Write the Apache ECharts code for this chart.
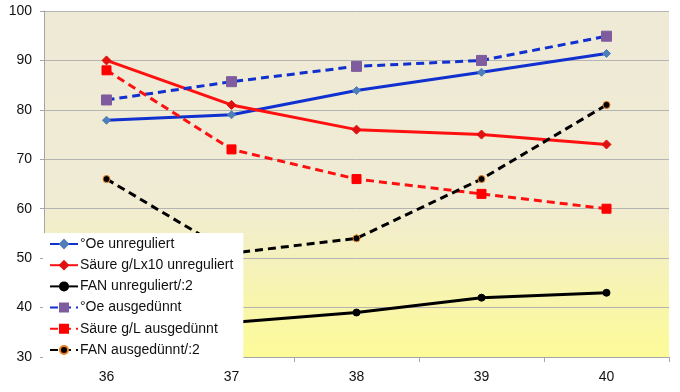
<!DOCTYPE html>
<html><head><meta charset="utf-8">
<script src="https://cdn.jsdelivr.net/npm/echarts@6/dist/echarts.min.js"></script>
<style>html,body{margin:0;padding:0;background:#fff}#c{width:680px;height:392px}</style>
</head><body><div id="c"></div>
<script>
const categories = ['36','37','38','39','40'];
const oeUnreg = [77.9, 79, 83.9, 87.6, 91.4];
const saeureUnreg = [90, 81, 76, 75, 73];
const fanUnreg = [36, 37, 39, 42, 43];
const oeAus = [82, 85.7, 88.8, 90, 94.9];
const saeureAus = [88, 72, 66, 63, 60];
const fanAus = [66, 51, 54, 66, 81];
const names = ['°Oe unreguliert','Säure g/Lx10 unreguliert','FAN unreguliert/:2','°Oe ausgedünnt','Säure g/L ausgedünnt','FAN ausgedünnt/:2'];

function s(name, data, color, dashed, symbol, size, mColor, mBorder){
  return {
    name, type:'line', data, symbol, symbolSize:size,
    lineStyle:{color, width:3, type: dashed ? [8,5] : 'solid'},
    itemStyle:{color:mColor, borderColor:mBorder||mColor, borderWidth:1},
    emphasis:{disabled:true}, z:3
  };
}
const chart = echarts.init(document.getElementById('c'));
chart.setOption({
  animation:false,
  textStyle:{fontFamily:'Liberation Sans'},
  grid:{left:44, right:11, top:11, bottom:35,
    show:true, borderWidth:0,
    backgroundColor:{type:'linear',x:0,y:0,x2:0,y2:1,colorStops:[
      {offset:0,color:'#EFEAD6'},{offset:0.55,color:'#F0EBD3'},{offset:1,color:'#FDFB98'}]}},
  xAxis:{type:'category', data:categories, boundaryGap:true,
    axisLine:{lineStyle:{color:'#A6A6A6', width:1}},
    axisTick:{show:true, length:5, lineStyle:{color:'#A6A6A6'}},
    axisLabel:{color:'#111', fontSize:14, margin:13}},
  yAxis:{type:'value', min:30, max:100, interval:10,
    axisLine:{show:true, lineStyle:{color:'#A6A6A6'}},
    axisTick:{show:true, length:4, lineStyle:{color:'#A6A6A6'}},
    splitLine:{lineStyle:{color:'#B4B4B4', width:1}},
    axisLabel:{color:'#111', fontSize:14, margin:12}},
  legend:{orient:'vertical', left:43, top:233, width:200,
    backgroundColor:'#fff', padding:[4,10,6,6], itemGap:7.2,
    itemWidth:28, itemHeight:10, data:names,
    textStyle:{fontSize:14, color:'#111', padding:[0,20,0,-3]}, z:10},
  series:[
    s(names[0], oeUnreg, '#1030D0', false, 'diamond', 8, '#4F7FB8'),
    s(names[1], saeureUnreg, '#FF1010', false, 'diamond', 9, '#E01010'),
    s(names[2], fanUnreg, '#000', false, 'circle', 7, '#000'),
    s(names[3], oeAus, '#1030D0', true, 'rect', 10, '#7E5C9E'),
    s(names[4], saeureAus, '#FF1010', true, 'rect', 9, '#FF0000'),
    s(names[5], fanAus, '#000', true, 'circle', 7, '#000', '#E88020')
  ]
});
</script></body></html>
